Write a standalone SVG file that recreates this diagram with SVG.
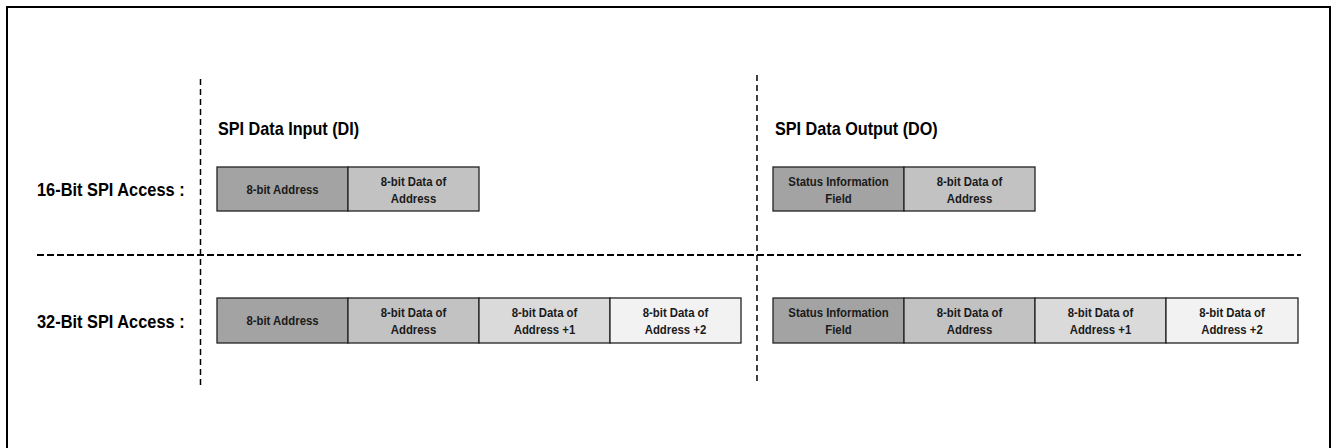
<svg xmlns="http://www.w3.org/2000/svg" width="1332" height="448" viewBox="0 0 1332 448">
<style>
.frame{fill:#fff;stroke:#000;stroke-width:2}
.cell{stroke:#222;stroke-width:1.3}
.c1{fill:#a3a3a3}.c2{fill:#c2c2c2}.c3{fill:#dadada}.c4{fill:#f2f2f2}
.t{font-family:"Liberation Sans",Arial,sans-serif;font-weight:bold;font-size:12.5px;fill:#1a1a1a;text-anchor:middle}
.h{font-family:"Liberation Sans",Arial,sans-serif;font-weight:bold;font-size:18px;fill:#000}
.vd{stroke:#000;stroke-width:1.5;stroke-dasharray:6 4;fill:none}
.hd{stroke:#000;stroke-width:2;stroke-dasharray:7 3;fill:none}
</style>
<rect class="frame" x="7" y="7" width="1323" height="460"/>
<g id="connectors">
<line class="vd" x1="200.5" y1="79" x2="200.5" y2="388"/>
<line class="vd" x1="757" y1="75" x2="757" y2="383"/>
<line class="hd" x1="37" y1="255" x2="1301" y2="255"/>
</g>
<g id="labels">
<text class="h" transform="translate(218,135) scale(0.9,1)">SPI Data Input  (DI)</text>
<text class="h" transform="translate(775,135) scale(0.9,1)">SPI Data Output (DO)</text>
<text class="h" transform="translate(37,196) scale(0.91,1)">16-Bit SPI Access :</text>
<text class="h" transform="translate(37,328) scale(0.91,1)">32-Bit SPI Access :</text>
</g>
<g id="di16">
<rect class="cell c1" x="217" y="167" width="131" height="44"/>
<text class="t" transform="translate(282.5,193.5) scale(0.91,1)">8-bit Address</text>
<rect class="cell c2" x="348" y="167" width="131" height="44"/>
<text class="t" transform="translate(413.5,185.5) scale(0.91,1)">8-bit Data of</text>
<text class="t" transform="translate(413.5,202.5) scale(0.91,1)">Address</text>
</g>
<g id="do16">
<rect class="cell c1" x="773" y="167" width="131" height="44"/>
<text class="t" transform="translate(838.5,185.5) scale(0.91,1)">Status Information</text>
<text class="t" transform="translate(838.5,202.5) scale(0.91,1)">Field</text>
<rect class="cell c2" x="904" y="167" width="131" height="44"/>
<text class="t" transform="translate(969.5,185.5) scale(0.91,1)">8-bit Data of</text>
<text class="t" transform="translate(969.5,202.5) scale(0.91,1)">Address</text>
</g>
<g id="di32">
<rect class="cell c1" x="217" y="298" width="131" height="45"/>
<text class="t" transform="translate(282.5,325) scale(0.91,1)">8-bit Address</text>
<rect class="cell c2" x="348" y="298" width="131" height="45"/>
<text class="t" transform="translate(413.5,316.5) scale(0.91,1)">8-bit Data of</text>
<text class="t" transform="translate(413.5,333.5) scale(0.91,1)">Address</text>
<rect class="cell c3" x="479" y="298" width="131" height="45"/>
<text class="t" transform="translate(544.5,316.5) scale(0.91,1)">8-bit Data of</text>
<text class="t" transform="translate(544.5,333.5) scale(0.91,1)">Address +1</text>
<rect class="cell c4" x="610" y="298" width="131" height="45"/>
<text class="t" transform="translate(675.5,316.5) scale(0.91,1)">8-bit Data of</text>
<text class="t" transform="translate(675.5,333.5) scale(0.91,1)">Address +2</text>
</g>
<g id="do32">
<rect class="cell c1" x="773" y="298" width="131" height="45"/>
<text class="t" transform="translate(838.5,316.5) scale(0.91,1)">Status Information</text>
<text class="t" transform="translate(838.5,333.5) scale(0.91,1)">Field</text>
<rect class="cell c2" x="904" y="298" width="131" height="45"/>
<text class="t" transform="translate(969.5,316.5) scale(0.91,1)">8-bit Data of</text>
<text class="t" transform="translate(969.5,333.5) scale(0.91,1)">Address</text>
<rect class="cell c3" x="1035" y="298" width="131" height="45"/>
<text class="t" transform="translate(1100.5,316.5) scale(0.91,1)">8-bit Data of</text>
<text class="t" transform="translate(1100.5,333.5) scale(0.91,1)">Address +1</text>
<rect class="cell c4" x="1166" y="298" width="132" height="45"/>
<text class="t" transform="translate(1232,316.5) scale(0.91,1)">8-bit Data of</text>
<text class="t" transform="translate(1232,333.5) scale(0.91,1)">Address +2</text>
</g>
</svg>
